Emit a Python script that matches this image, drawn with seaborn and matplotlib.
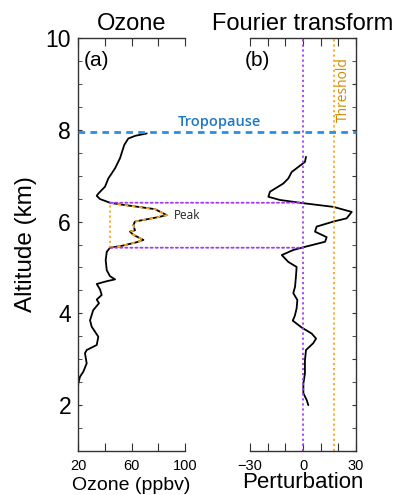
import numpy as np
import pandas as pd
import seaborn as sns
import matplotlib
matplotlib.use("Agg")
import matplotlib.pyplot as plt
from matplotlib.patches import ConnectionPatch
from matplotlib.lines import Line2D
from matplotlib.transforms import blended_transform_factory
from matplotlib.ticker import MultipleLocator, FixedLocator

# ---------------- data ----------------
ozone_alt = [2.40, 2.47, 2.62, 2.73, 2.91, 3.13, 3.20, 3.31, 3.49, 3.71, 3.85,
             4.07, 4.22, 4.30, 4.40, 4.52, 4.64, 4.70, 4.74, 4.81, 4.94, 5.16,
             5.34, 5.43, 5.47, 5.55, 5.60, 5.71, 5.78, 5.81, 5.92, 6.00, 6.09,
             6.14, 6.27, 6.31, 6.38, 6.41, 6.49, 6.56, 6.61, 6.76, 6.94, 7.16,
             7.38, 7.67, 7.81, 7.87, 7.92]
ozone_ppbv = [20.0, 20.2, 21.5, 24.0, 26.5, 25.2, 26.5, 34.0, 35.2, 30.2, 29.0,
              31.4, 35.7, 34.0, 37.7, 36.5, 34.0, 41.5, 47.7, 43.9, 41.5, 40.7,
              41.5, 43.9, 52.7, 63.9, 68.9, 61.4, 58.9, 62.6, 61.4, 62.6, 78.8,
              86.3, 77.6, 67.6, 50.0, 43.9, 36.5, 34.0, 35.2, 40.2, 42.7, 47.7,
              51.4, 54.6, 57.6, 63.0, 71.4]

pert_alt = [2.00, 2.11, 2.26, 2.47, 2.69, 2.98, 3.20, 3.35, 3.45, 3.56, 3.69,
            3.84, 3.95, 4.11, 4.29, 4.44, 4.58, 4.80, 5.01, 5.12, 5.27, 5.38,
            5.44, 5.56, 5.66, 5.78, 5.89, 6.00, 6.07, 6.21, 6.32, 6.40, 6.47,
            6.54, 6.65, 6.83, 6.94, 7.08, 7.30, 7.41]
pert_val = [3.0, 2.1, 0.2, 0.2, 1.1, 1.1, 1.7, 5.8, 7.4, 4.9, -0.7,
            -5.8, -4.6, -3.6, -3.2, -5.5, -4.5, -4.0, -3.6, -8.3, -12.0, -5.5,
            0.2, 12.5, 13.4, 6.8, 7.7, 17.2, 24.7, 27.6, 17.2, 0.2, -13.0,
            -19.6, -18.7, -11.1, -8.3, -6.4, 1.1, 1.7]

tropopause_alt = 7.95
threshold = 17.5
peak_low, peak_high = 5.43, 6.41
peak_base_ozone = 44.0

ozone_ticks = [20, 40, 60, 80, 100]
ozone_ticklabels = ["20", "", "60", "", "100"]
pert_ticks = [-30, -20, -10, 0, 10, 20, 30]
pert_ticklabels = ["\u221230", "", "", "0", "", "", "30"]
alt_ticks = [2, 4, 6, 8, 10]

# ---------------- style ----------------
sns.set_style("white")
plt.rcParams['font.family'] = ['Liberation Sans', 'DejaVu Sans']
plt.rcParams['text.color'] = 'black'
plt.rcParams['axes.labelcolor'] = 'black'
plt.rcParams['axes.titlecolor'] = 'black'

BLUE = "#2a8fe0"
BLUE_TXT = "#1f78c4"
PURPLE = "#a23cf2"
ORANGE = "#ffa51a"
ORANGE_TXT = "#d08a00"

fig = plt.figure(figsize=(4.0, 4.95), dpi=100)
ax1 = fig.add_axes([78/400, 44/495, 107/400, 413/495])
ax2 = fig.add_axes([250/400, 44/495, 106/400, 413/495])

df_oz = pd.DataFrame({"alt": ozone_alt, "ozone": ozone_ppbv})
df_pt = pd.DataFrame({"alt": pert_alt, "pert": pert_val})

sns.lineplot(data=df_oz, x="ozone", y="alt", sort=False, estimator=None,
             color="black", lw=1.3, ax=ax1)
peak_df = df_oz[(df_oz.alt >= peak_low) & (df_oz.alt <= peak_high)]
sns.lineplot(data=peak_df, x="ozone", y="alt", sort=False, estimator=None,
             color=ORANGE, lw=1.3, ax=ax1, linestyle=(0, (2.0, 2.0)))
sns.lineplot(data=df_pt, x="pert", y="alt", sort=False, estimator=None,
             color="black", lw=1.3, ax=ax2)

for ax in (ax1, ax2):
    ax.set_ylim(1, 10)
    ax.set_xlabel("")
    ax.set_ylabel("")
    for s in ax.spines.values():
        s.set_color("#333333")
        s.set_linewidth(1.0)
    ax.tick_params(direction="in", which="both", colors="#333333",
                   labelcolor="black")
    ax.yaxis.set_minor_locator(MultipleLocator(0.5))

# left panel
ax1.set_xlim(20, 100)
ax1.xaxis.set_major_locator(FixedLocator(ozone_ticks))
ax1.set_xticklabels(ozone_ticklabels)
ax1.set_yticks(alt_ticks)
ax1.spines["right"].set_visible(False)
ax1.tick_params(axis="x", which="major", top=True, bottom=True, length=6,
                labelsize=10.5, pad=6)
ax1.tick_params(axis="y", which="both", left=True, right=False, length=3,
                labelsize=16.5, pad=5)
ax1.set_title("Ozone", fontsize=17, pad=6)
ax1.set_xlabel("Ozone (ppbv)", fontsize=14, labelpad=2.5)
ax1.set_ylabel("Altitude (km)", fontsize=17.5, labelpad=6)
ax1.text(0.05, 0.945, "(a)", transform=ax1.transAxes, fontsize=15,
         ha="left", va="center")

# right panel
ax2.set_xlim(-30, 30)
ax2.xaxis.set_major_locator(FixedLocator(pert_ticks))
ax2.set_xticklabels(pert_ticklabels)
ax2.spines["left"].set_visible(False)
ax2.tick_params(axis="x", which="major", top=True, bottom=True, length=6,
                labelsize=10.5, pad=6)
ax2.tick_params(axis="y", which="both", left=False, right=True, length=3,
                labelleft=False, labelright=False)
ax2.set_title("Fourier transform", fontsize=17, pad=6)
ax2.set_xlabel("Perturbation", fontsize=16, labelpad=-1)
ax2.text(-0.05, 0.945, "(b)", transform=ax2.transAxes, fontsize=15,
         ha="left", va="center")

# vertical reference lines
ax2.axvline(0, color=PURPLE, lw=1.3, linestyle=(0, (1.2, 1.6)))
ax2.axvline(threshold, color=ORANGE, lw=1.3, linestyle=(0, (1.2, 1.6)))
ax2.text(22.8, 8.87, "Threshold", rotation=90, color=ORANGE_TXT,
         fontsize=10, ha="center", va="center", family=["Open Sans"])

# peak region markers
ax1.plot([peak_base_ozone, peak_base_ozone], [peak_low, peak_high - 0.04],
         color=ORANGE, lw=1.3, linestyle=(0, (1.2, 1.6)))
for a in (peak_high, peak_low):
    cp = ConnectionPatch(xyA=(peak_base_ozone, a), coordsA=ax1.transData,
                         xyB=(0, a), coordsB=ax2.transData,
                         color=PURPLE, lw=1.3, linestyle=(0, (1.2, 1.6)))
    fig.add_artist(cp)
ax1.text(91.5, 6.14, "Peak", fontsize=8.5, ha="left", va="center",
         color="#222222", family=["Open Sans"])

# tropopause line spanning both panels
trans = blended_transform_factory(fig.transFigure, ax1.transData)
fig.add_artist(Line2D([78/400, 356/400], [tropopause_alt, tropopause_alt],
                      transform=trans, color=BLUE, lw=2.0,
                      linestyle=(0, (2.4, 1.9))))
fig.text(219.5/400, 1 - 122/495, "Tropopause", color=BLUE_TXT, fontsize=10.5,
         ha="center", va="center", family=["Open Sans"], fontweight="semibold")

fig.savefig("out.png", dpi=100)
